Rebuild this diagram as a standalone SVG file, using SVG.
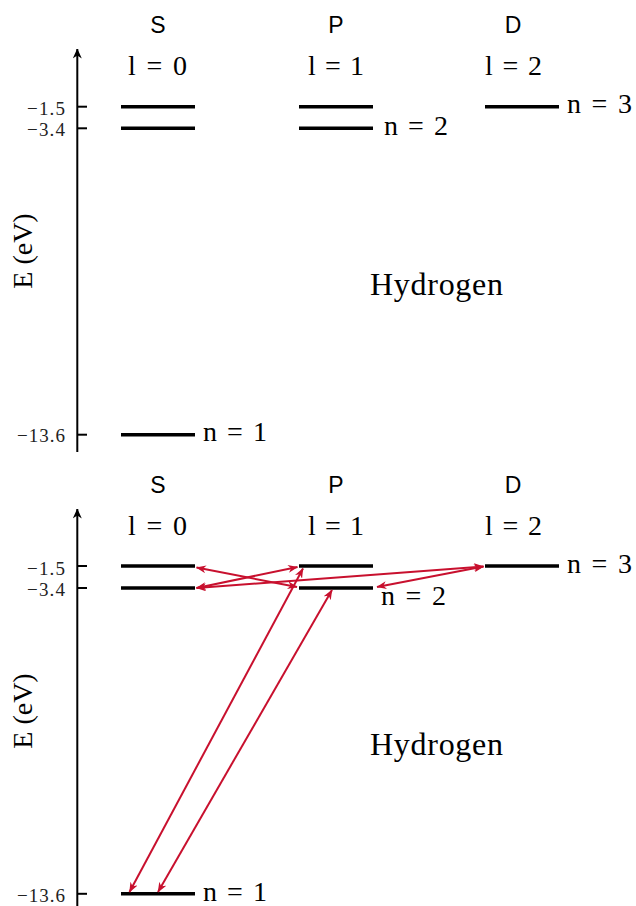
<svg xmlns="http://www.w3.org/2000/svg" width="636" height="906" viewBox="0 0 636 906">
<style>
.bg{fill:#fff}
.axis{stroke:#000;stroke-width:2;fill:none}
.tick{stroke:#000;stroke-width:2}
.lvl{stroke:#000;stroke-width:3.4}
.tl{font-family:"Liberation Serif",serif;font-size:19px;fill:#222;text-anchor:end}
.m{font-family:"Liberation Serif",serif;font-size:28px;fill:#000}
.sans{font-family:"Liberation Sans",sans-serif;font-size:23px;fill:#000;text-anchor:middle}
.big{font-family:"Liberation Serif",serif;font-size:32px;fill:#000}
.ax{font-family:"Liberation Serif",serif;font-size:28px;fill:#000;text-anchor:middle}
.tr{stroke:#C8102E;stroke-width:2;fill:none;marker-start:url(#rh);marker-end:url(#rh)}
</style>
<defs>
<marker id="rh" viewBox="0 0 10 8" refX="9.5" refY="4" markerWidth="10" markerHeight="8" markerUnits="userSpaceOnUse" orient="auto-start-reverse">
<path d="M0,0 L10,4 L0,8 L3,4 z" fill="#C8102E"/>
</marker>
<marker id="ah" viewBox="0 0 10 9" refX="9.5" refY="4.5" markerWidth="10" markerHeight="9" markerUnits="userSpaceOnUse" orient="auto">
<path d="M0,0 L10,4.5 L0,9 L3,4.5 z" fill="#000"/>
</marker>
</defs>
<rect class="bg" x="0" y="0" width="636" height="906"/>

<g id="panel-top">
<g id="top-axis">
<line class="axis" x1="77.3" y1="452" x2="77.3" y2="49" marker-end="url(#ah)"/>
<line class="tick" x1="77" y1="106.7" x2="87" y2="106.7"/>
<line class="tick" x1="77" y1="128.3" x2="87" y2="128.3"/>
<line class="tick" x1="77" y1="434.7" x2="87" y2="434.7"/>
<text class="tl" x="65" y="115" textLength="38">−1.5</text>
<text class="tl" x="65" y="136" textLength="38">−3.4</text>
<text class="tl" x="65" y="442" textLength="48">−13.6</text>
<text class="ax" transform="translate(32,251) rotate(-90)">E (eV)</text>
</g>
<g id="top-headers">
<text class="sans" x="158" y="33">S</text>
<text class="sans" x="336" y="33">P</text>
<text class="sans" x="513" y="33">D</text>
<text class="m" x="128" y="75" textLength="59">l = 0</text>
<text class="m" x="308" y="75" textLength="56">l = 1</text>
<text class="m" x="485" y="75" textLength="57">l = 2</text>
</g>
<g id="top-S-n3"><line class="lvl" x1="121" y1="106.7" x2="195" y2="106.7"/></g>
<g id="top-S-n2"><line class="lvl" x1="121" y1="128.3" x2="195" y2="128.3"/></g>
<g id="top-S-n1"><line class="lvl" x1="121" y1="434.7" x2="195" y2="434.7"/><text class="m" x="203" y="441" textLength="64">n = 1</text></g>
<g id="top-P-n3"><line class="lvl" x1="299" y1="106.7" x2="373" y2="106.7"/></g>
<g id="top-P-n2"><line class="lvl" x1="299" y1="128.3" x2="373" y2="128.3"/><text class="m" x="384" y="135" textLength="64">n = 2</text></g>
<g id="top-D-n3"><line class="lvl" x1="485" y1="106.7" x2="559" y2="106.7"/><text class="m" x="567" y="113" textLength="65">n = 3</text></g>
<text class="big" x="370" y="295" textLength="133">Hydrogen</text>
</g>

<g id="panel-bottom">
<g id="bot-axis">
<line class="axis" x1="77.3" y1="912" x2="77.3" y2="509" marker-end="url(#ah)"/>
<line class="tick" x1="77" y1="566" x2="87" y2="566"/>
<line class="tick" x1="77" y1="588" x2="87" y2="588"/>
<line class="tick" x1="77" y1="893.8" x2="87" y2="893.8"/>
<text class="tl" x="65" y="574.5" textLength="38">−1.5</text>
<text class="tl" x="65" y="595.5" textLength="38">−3.4</text>
<text class="tl" x="65" y="901.5" textLength="48">−13.6</text>
<text class="ax" transform="translate(32,711) rotate(-90)">E (eV)</text>
</g>
<g id="bot-headers">
<text class="sans" x="158" y="493">S</text>
<text class="sans" x="336" y="493">P</text>
<text class="sans" x="513" y="493">D</text>
<text class="m" x="128" y="535" textLength="59">l = 0</text>
<text class="m" x="308" y="535" textLength="56">l = 1</text>
<text class="m" x="485" y="535" textLength="57">l = 2</text>
</g>
<g id="bot-S-n3"><line class="lvl" x1="121" y1="566" x2="195" y2="566"/></g>
<g id="bot-S-n2"><line class="lvl" x1="121" y1="588" x2="195" y2="588"/></g>
<g id="bot-S-n1"><line class="lvl" x1="121" y1="893.8" x2="195" y2="893.8"/><text class="m" x="203" y="901" textLength="64">n = 1</text></g>
<g id="bot-P-n3"><line class="lvl" x1="299" y1="566" x2="373" y2="566"/></g>
<g id="bot-P-n2"><line class="lvl" x1="299" y1="588" x2="373" y2="588"/><text class="m" x="381" y="605" textLength="65">n = 2</text></g>
<g id="bot-D-n3"><line class="lvl" x1="485" y1="566" x2="559" y2="566"/><text class="m" x="567" y="573" textLength="65">n = 3</text></g>
<text class="big" x="370" y="755" textLength="133">Hydrogen</text>
</g>

<g id="connectors">
<line class="tr" x1="196.5" y1="567.5" x2="297" y2="587"/>
<line class="tr" x1="196.5" y1="588" x2="297.5" y2="567"/>
<line class="tr" x1="196.5" y1="588" x2="483.5" y2="566.5"/>
<line class="tr" x1="483.5" y1="566.5" x2="377" y2="587"/>
<line class="tr" x1="303" y1="568.5" x2="129.5" y2="892"/>
<line class="tr" x1="332" y1="590" x2="158" y2="892"/>
</g>
</svg>
